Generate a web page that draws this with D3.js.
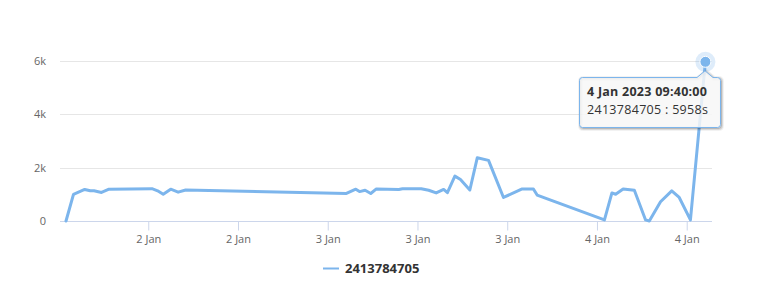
<!DOCTYPE html>
<html>
<head>
<meta charset="utf-8">
<script src="https://cdn.jsdelivr.net/npm/d3@7"></script>
<style>
  body { margin: 0; background: #fff; }
  svg { font-family: "Open Sans", "DejaVu Sans", sans-serif; }
</style>
</head>
<body>
<div id="chart"></div>
<script>
//Chart size
const WIDTH = 764;
const HEIGHT = 289;

//Series name & colours
const SERIES_NAME = "2413784705";
const LINE_COLOR = "#7cb5ec";

//Sample times (2023, Jan) as "day hh:mm"
const times = [
  "2 00:40", "2 01:20", "2 02:20", "2 02:50", "2 03:10", "2 03:50", "2 04:30",
  "2 08:20", "2 08:50", "2 09:20", "2 10:00", "2 10:40", "2 11:20",
  "3 01:40", "3 02:30", "3 02:50", "3 03:20", "3 03:50", "3 04:20",
  "3 06:20", "3 06:40", "3 08:20", "3 09:00", "3 09:40", "3 10:20", "3 10:40",
  "3 11:20", "3 11:50", "3 12:40", "3 13:20", "3 14:20", "3 15:40",
  "3 17:20", "3 18:20", "3 18:40",
  "4 00:40", "4 01:20", "4 01:40", "4 02:20", "4 03:20", "4 04:20", "4 04:40",
  "4 05:40", "4 06:40", "4 07:20", "4 08:20", "4 09:40"
];

//Seconds per sample
const values = [
  0, 1000, 1180, 1130, 1130, 1070, 1190,
  1210, 1130, 1000, 1190, 1080, 1160,
  1030, 1190, 1100, 1150, 1030, 1200,
  1180, 1210, 1210, 1150, 1050, 1180, 1060,
  1680, 1550, 1160, 2370, 2270, 880,
  1200, 1200, 970,
  40, 1050, 1000, 1200, 1150, 40, 0,
  720, 1130, 880, 40, 5958
];

//Y axis ticks
const yTicks = [0, 2000, 4000, 6000];
const yTickLabels = ["0", "2k", "4k", "6k"];

//////////////////////////////////////////////////

function parseTime(s) {
  var parts = s.split(" ");
  var hm = parts[1].split(":");
  return new Date(2023, 0, +parts[0], +hm[0], +hm[1]);
}

var data = times.map(function(t, i) {
  return { date: parseTime(t), value: values[i] };
});

var svg = d3.select("#chart")
  .append("svg")
  .attr("width", WIDTH)
  .attr("height", HEIGHT);

//Scales
var x = d3.scaleTime()
  .domain(d3.extent(data, function(d) { return d.date; }))
  .range([66, 705.4]);

var y = d3.scaleLinear()
  .domain([0, 6000])
  .range([221, 60.7]);

//Gridlines
svg.append("g")
  .selectAll("line")
  .data(yTicks.slice(1))
  .enter().append("line")
  .attr("x1", 60)
  .attr("x2", 712)
  .attr("y1", function(d) { return Math.round(y(d)) + 0.5; })
  .attr("y2", function(d) { return Math.round(y(d)) + 0.5; })
  .attr("stroke", "#e6e6e6")
  .attr("stroke-width", 1);

//Y labels
svg.append("g")
  .selectAll("text")
  .data(yTicks)
  .enter().append("text")
  .attr("x", 46)
  .attr("y", function(d) { return y(d) + 4; })
  .attr("text-anchor", "end")
  .attr("font-size", "11px")
  .attr("fill", "#666666")
  .text(function(d, i) { return yTickLabels[i]; });

//X axis
var xAxis = d3.axisBottom(x)
  .ticks(d3.timeHour.every(8))
  .tickFormat(d3.timeFormat("%-d %b"))
  .tickSize(9)
  .tickSizeOuter(0)
  .tickPadding(5);

var gx = svg.append("g")
  .attr("transform", "translate(0," + 221.5 + ")")
  .call(xAxis);

gx.select(".domain").remove();
gx.insert("line", ":first-child")
  .attr("x1", 60)
  .attr("x2", 712)
  .attr("stroke", "#ccd6eb");
gx.selectAll(".tick line").attr("stroke", "#ccd6eb");
gx.selectAll(".tick text")
  .attr("font-family", "Open Sans, DejaVu Sans, sans-serif")
  .attr("font-size", "11px")
  .attr("fill", "#666666");

//Series line
var line = d3.line()
  .x(function(d) { return x(d.date); })
  .y(function(d) { return y(d.value); });

svg.append("path")
  .datum(data)
  .attr("d", line)
  .attr("fill", "none")
  .attr("stroke", LINE_COLOR)
  .attr("stroke-width", 3)
  .attr("stroke-linejoin", "round")
  .attr("stroke-linecap", "round");

//Hovered point: halo + marker
var last = data[data.length - 1];
var px = x(last.date), py = y(last.value);

svg.append("circle")
  .attr("cx", px).attr("cy", py).attr("r", 10)
  .attr("fill", LINE_COLOR).attr("fill-opacity", 0.25);
svg.append("circle")
  .attr("cx", px).attr("cy", py).attr("r", 5.5)
  .attr("fill", LINE_COLOR).attr("stroke", "#fff").attr("stroke-width", 1);

//Tooltip
var tx = 579.5, ty = 77.5, tw = 141, th = 50, r = 3;
var ax = Math.round(px), ay = py + 9;
var tipPath = [
  "M", tx + r, ty,
  "L", ax - 8, ty, "L", ax, ay, "L", ax + 8, ty,
  "L", tx + tw - r, ty,
  "Q", tx + tw, ty, tx + tw, ty + r,
  "L", tx + tw, ty + th - r,
  "Q", tx + tw, ty + th, tx + tw - r, ty + th,
  "L", tx + r, ty + th,
  "Q", tx, ty + th, tx, ty + th - r,
  "L", tx, ty + r,
  "Q", tx, ty, tx + r, ty, "Z"
].join(" ");

var tip = svg.append("g");
[3, 2, 1].forEach(function(o) {
  tip.append("path")
    .attr("d", tipPath)
    .attr("transform", "translate(1,1)")
    .attr("fill", "none")
    .attr("stroke", "#000")
    .attr("stroke-opacity", 0.05 * o)
    .attr("stroke-width", 2 * (4 - o) - 1);
});
tip.append("path")
  .attr("d", tipPath)
  .attr("fill", "rgba(247,247,247,0.85)")
  .attr("stroke", LINE_COLOR)
  .attr("stroke-width", 1);

var fmtTip = d3.timeFormat("%-d %b %Y %H:%M:%S");
tip.append("text")
  .attr("x", 587).attr("y", 96)
  .attr("font-size", "12.5px")
  .attr("letter-spacing", "0.25px")
  .attr("font-weight", "bold")
  .attr("fill", "#333333")
  .text(fmtTip(last.date));
tip.append("text")
  .attr("x", 587).attr("y", 113.5)
  .attr("font-size", "12.5px")
  .attr("letter-spacing", "0.3px")
  .attr("fill", "#333333")
  .text(SERIES_NAME + " : " + last.value + "s");

//Legend
var legend = svg.append("g");
legend.append("line")
  .attr("x1", 323).attr("x2", 339)
  .attr("y1", 268.5).attr("y2", 268.5)
  .attr("stroke", LINE_COLOR)
  .attr("stroke-width", 2);
legend.append("text")
  .attr("x", 345).attr("y", 273)
  .attr("font-size", "13px")
  .attr("font-weight", "bold")
  .attr("fill", "#333333")
  .text(SERIES_NAME);
</script>
</body>
</html>
